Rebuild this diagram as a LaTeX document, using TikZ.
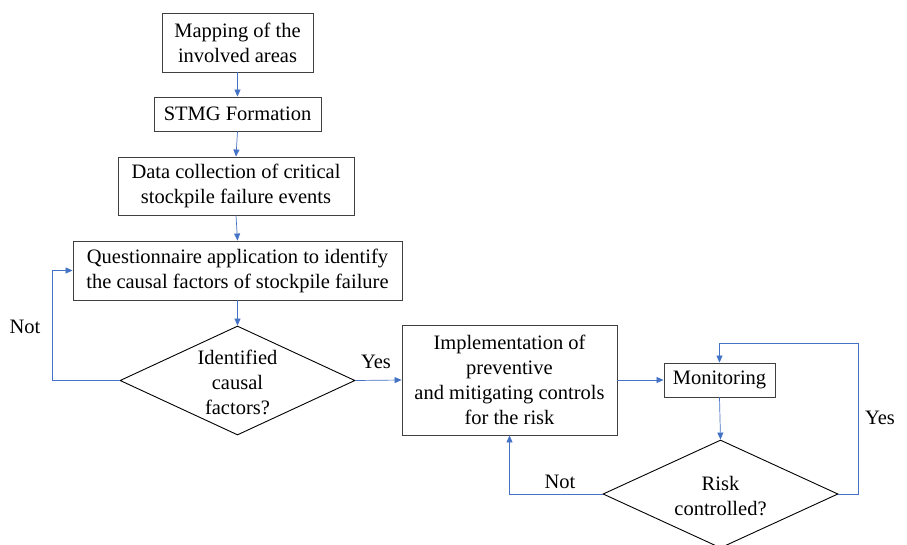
\documentclass[tikz,border=0pt]{standalone}
\usepackage{fontspec}
\setmainfont{Liberation Serif}
\usetikzlibrary{shapes.geometric,arrows.meta}
\definecolor{lineblue}{RGB}{68,114,196}
\definecolor{boxgray}{RGB}{64,64,64}
\begin{document}
\begin{tikzpicture}[x=1pt,y=-1pt,
  every node/.style={font=\fontsize{20.5pt}{25pt}\selectfont},
  procbox/.style={draw=boxgray,line width=0.9pt,align=center,inner sep=0pt},
  decis/.style={draw=black,line width=0.9pt,shape=diamond,inner sep=0pt},
  dtext/.style={align=center,inner sep=0pt},
  arr/.style={draw=lineblue,line width=0.7pt,-{Triangle[length=7pt,width=6pt]}},
  lbl/.style={inner sep=0pt}]
\useasboundingbox (0,0) rectangle (907,544);
\node[procbox,minimum width=151pt,minimum height=59pt] (map) at (237.5,42.5) {Mapping of the\\involved areas};
\node[procbox,minimum width=167pt,minimum height=34pt] (stmg) at (237.5,114) {STMG Formation};
\node[procbox,minimum width=236pt,minimum height=58pt] (data) at (236,186) {Data collection of critical\\stockpile failure events};
\node[procbox,minimum width=329pt,minimum height=59pt] (quest) at (237.5,270.5) {Questionnaire application to identify\\the causal factors of stockpile failure};
\node[decis,minimum width=235pt,minimum height=109pt] (d1) at (237.5,380.5) {};
\node[dtext] (d1t) at (237.5,382) {Identified\\causal\\factors?};
\node[procbox,minimum width=215pt,minimum height=110pt] (impl) at (509.5,380) {Implementation of\\preventive\\and mitigating controls\\for the risk};
\node[procbox,minimum width=111pt,minimum height=34pt] (mon) at (719.5,380) {Monitoring};
\node[decis,minimum width=235pt,minimum height=108pt] (d2) at (720.5,494) {};
\node[dtext] (d2t) at (720.5,496) {Risk\\controlled?};

\coordinate (c1) at (52,380.5);
\coordinate (c2) at (858,494);
\coordinate (c3) at (858,343);

\draw[arr] (map.south) -- (stmg.north);
\draw[arr] (stmg.south) -- (data.north);
\draw[arr] (data.south) -- (quest.north);
\draw[arr] (quest.south) -- (d1.north);
\draw[arr] (d1.west) -- (c1) |- (quest.west);
\draw[arr] (d1.east) -- (impl.west);
\draw[arr] (impl.east) -- (mon.west);
\draw[arr] (mon.south) -- (d2.north);
\draw[arr] (d2.east) -- (c2) -- (c3) -| (mon.north);
\draw[arr] (d2.west) -| (impl.south);

\node[lbl] (notA) at (25,327) {Not};
\node[lbl] (yesA) at (376,362) {Yes};
\node[lbl] (yesB) at (880,418) {Yes};
\node[lbl] (notB) at (560,482) {Not};
\end{tikzpicture}
\end{document}
